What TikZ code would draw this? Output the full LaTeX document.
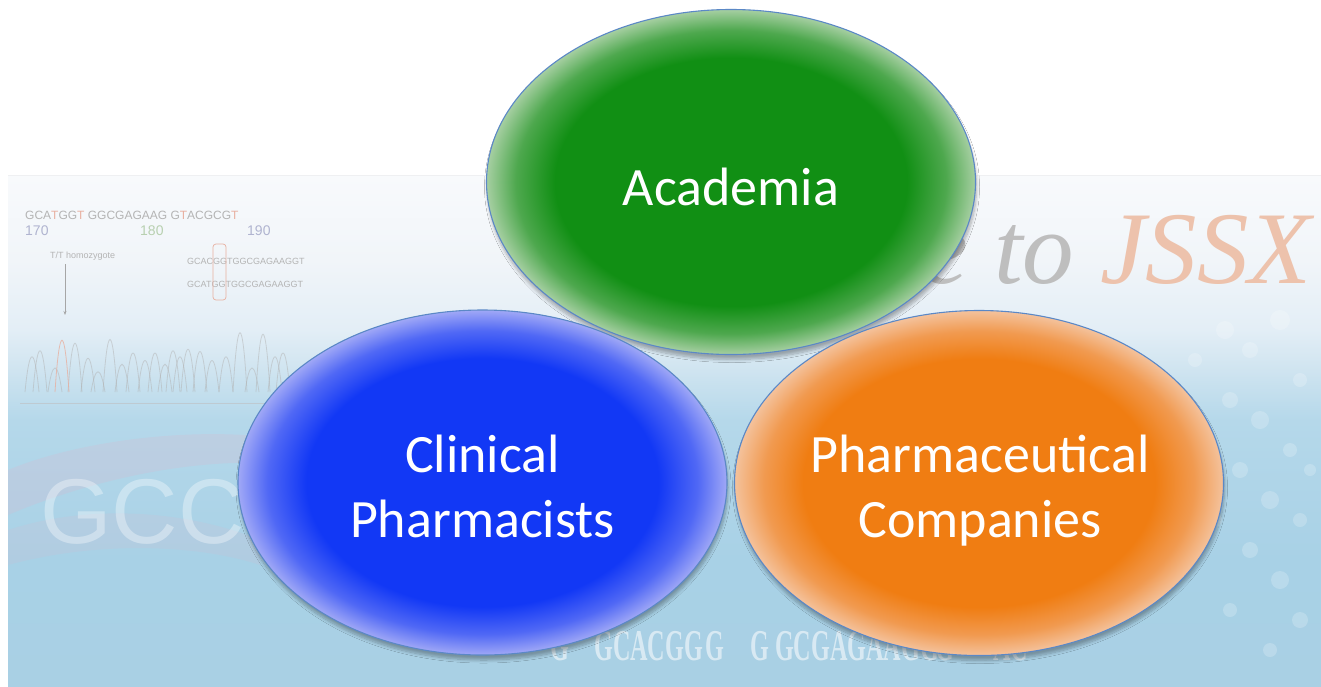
\documentclass[tikz,border=0pt]{standalone}
\usepackage{fontspec}
\setmainfont{Carlito}
\newfontfamily\seriffam{Liberation Serif}
\newfontfamily\sansfam{Liberation Sans}
\usetikzlibrary{shapes.geometric,shadows.blur,arrows.meta}

\definecolor{gC}{HTML}{118F14}
\definecolor{gM}{HTML}{4EA84E}
\definecolor{gE}{HTML}{A6CFA2}
\definecolor{bC}{HTML}{1238F5}
\definecolor{bM}{HTML}{5068F5}
\definecolor{bE}{HTML}{A0A8F6}
\definecolor{oC}{HTML}{F07D12}
\definecolor{oM}{HTML}{F19A50}
\definecolor{oE}{HTML}{F4C29C}
\definecolor{rim}{HTML}{5B88C6}

\definecolor{b0}{HTML}{A9D0E4}
\definecolor{b1}{HTML}{A8D1E6}
\definecolor{b2}{HTML}{B5D8EA}
\definecolor{b3}{HTML}{CFE4F0}
\definecolor{b4}{HTML}{E3EEF6}
\definecolor{b5}{HTML}{F1F5F9}
\definecolor{b6}{HTML}{F8FAFC}
\definecolor{seqgray}{HTML}{B4B4B4}
\definecolor{seqred}{HTML}{E8B0A0}
\definecolor{seqgreen}{HTML}{B8D0B0}
\definecolor{seqblue}{HTML}{B0B4D0}
\definecolor{jssx}{HTML}{EDC2AC}
\definecolor{welc}{HTML}{BEBEBE}
\definecolor{pinkish}{HTML}{D9B8CE}

\pgfdeclareradialshading{glowG}{\pgfpoint{0bp}{0bp}}{color(0bp)=(gC); color(18bp)=(gC); color(22bp)=(gM); color(25bp)=(gE); color(50bp)=(gE)}
\pgfdeclareradialshading{glowB}{\pgfpoint{0bp}{0bp}}{color(0bp)=(bC); color(18bp)=(bC); color(22bp)=(bM); color(25bp)=(bE); color(50bp)=(bE)}
\pgfdeclareradialshading{glowO}{\pgfpoint{0bp}{0bp}}{color(0bp)=(oC); color(18bp)=(oC); color(22bp)=(oM); color(25bp)=(oE); color(50bp)=(oE)}
\pgfdeclareverticalshading{bgband}{100bp}{color(0bp)=(b0); color(25bp)=(b0); color(37.35bp)=(b1); color(51bp)=(b2); color(55.9bp)=(b3); color(59.85bp)=(b4); color(66.7bp)=(b5); color(75bp)=(b6); color(100bp)=(b6)}

\tikzset{
  bubble/.style={ellipse, inner sep=0pt, minimum width=489pt, minimum height=345pt,
    draw=rim, line width=1.1pt,
    blur shadow={shadow xshift=1pt, shadow yshift=-5pt, shadow opacity=30, shadow blur steps=8, shadow blur radius=3pt}},
  lbl/.style={text=white, font=\fontsize{54}{65}\selectfont, anchor=base, inner sep=0pt},
  seq/.style={font=\sansfam\fontsize{12}{14}\selectfont, text=seqgray, anchor=base west, inner sep=0pt},
  peak/.style={draw=black!30, line width=0.8pt, opacity=.5},
  bigseq/.style={font=\seriffam\bfseries\fontsize{44}{50}\selectfont, text=white, opacity=.55, anchor=base west, inner sep=0pt}
}

\begin{document}
\begin{tikzpicture}[x=1pt,y=-1pt]
\useasboundingbox (0,0) rectangle (1321,686);
\fill[white] (0,0) rectangle (1321,686);
% background photo band
\shade[shading=bgband] (8,175) rectangle (1321,686);
\draw[white!88!black, line width=0.6pt, opacity=.35] (8,175) -- (1321,175);
% pink swathes
\fill[pinkish, opacity=.25] (8,470) .. controls (80,440) and (200,425) .. (290,440) -- (290,465) .. controls (200,455) and (90,480) .. (8,515) -- cycle;
\fill[pinkish, opacity=.18] (8,530) .. controls (100,500) and (200,515) .. (260,540) -- (260,565) .. controls (200,545) and (100,540) .. (8,565) -- cycle;
% molecule blobs at right
\foreach \px/\py/\r in {1225/330/9,1250/350/8,1195/360/7,1280/320/10,1300/380/7,1230/400/8,1260/420/9,1290/450/7,1240/470/8,1270/500/9,1300/520/7,1250/550/8,1280/580/9,1230/610/7,1300/620/8,1270/650/7,1215/520/7,1310/470/6}
  \fill[white, opacity=.2] (\px,\py) circle[radius=\r];

% sequencing trace (faint)
\node[seq] (s1) at (25,219) {GCA\textcolor{seqred}{T}GG\textcolor{seqred}{T} GGCGAGAAG G\textcolor{seqred}{T}ACGCG\textcolor{seqred}{T}};
\node[seq, text=seqblue, font=\sansfam\fontsize{14}{16}\selectfont] (n170) at (25,235) {170};
\node[seq, text=seqgreen, font=\sansfam\fontsize{14}{16}\selectfont] (n180) at (140,235) {180};
\node[seq, text=seqblue, font=\sansfam\fontsize{14}{16}\selectfont] (n190) at (247,235) {190};
\node[seq, font=\sansfam\fontsize{9}{11}\selectfont] (tt) at (50,258) {T/T homozygote};
\coordinate (ttend) at (65,315);
\draw[-{Stealth[length=4pt]}, black!35, line width=0.6pt] (65,264) -- (ttend);
\node[seq, font=\sansfam\fontsize{9}{11}\selectfont] (s2) at (187,264) {GCACGGTGGCGAGAAGGT};
\node[seq, font=\sansfam\fontsize{9}{11}\selectfont] (s3) at (187,287) {GCATGGTGGCGAGAAGGT};
\draw[seqred, line width=0.7pt, rounded corners=3pt] (213,244) rectangle (226,300);
\foreach \px/\py in {32/345,40/337,55/360,75/327,88/347,98/365,110/322,122/355,133/340,145/350,155/340,165/355,173/337,180/345,188/335,200/338,212/350,226/345,240/313,252/360,263/315,275/345,283/340}
  \draw[peak] (\px-7,392) .. controls (\px-2.5,\py) and (\px+2.5,\py) .. (\px+7,392);
\draw[peak, draw=seqred, opacity=.8] (55,392) .. controls (59.5,323) and (64.5,323) .. (69,392);
\draw[black!25, line width=0.8pt, opacity=.6] (20,403) -- (287,403);

% big faded letters
\node[font=\sansfam\fontsize{92}{100}\selectfont, text=white, opacity=.35, anchor=base west, inner sep=0pt] (gcc) at (40,543) {GCC};
\node[bigseq] (bg1) at (550,660) {\scalebox{0.55}[1]{G}};
\node[bigseq] (bg2) at (594,660) {\scalebox{0.55}[1]{GCACGG}};
\node[bigseq] (bg3) at (705,660) {\scalebox{0.55}[1]{G}};
\node[bigseq] (bg4) at (750,660) {\scalebox{0.55}[1]{G GCGAGAAGG}};
\node[bigseq] (bg5) at (935,660) {\scalebox{0.55}[1]{G}};
\node[bigseq] (bg6) at (993,660) {\scalebox{0.55}[1]{AC}};

% "...me to JSSX" (rest hidden by the green bubble)
\node[font=\seriffam\itshape\fontsize{103}{110}\selectfont, anchor=base east, inner sep=0pt] (welcome) at (1312,283) {\textcolor{welc}{me to }\textcolor{jssx}{JSSX}};

% the three bubbles
\node[bubble, shading=glowG] (acad) at (731,182) {};
\node[bubble, shading=glowB] (clin) at (482.5,482.5) {};
\node[bubble, shading=glowO] (pharm) at (979,483) {};

\node[lbl] (tAcad) at (731,205) {Academia};
\node[lbl] (tClin1) at (482.5,472) {Clinical};
\node[lbl] (tClin2) at (482.5,537) {Pharmacists};
\node[lbl] (tPh1) at (980,472) {Pharmaceutical};
\node[lbl] (tPh2) at (980,537) {Companies};
\end{tikzpicture}
\end{document}
